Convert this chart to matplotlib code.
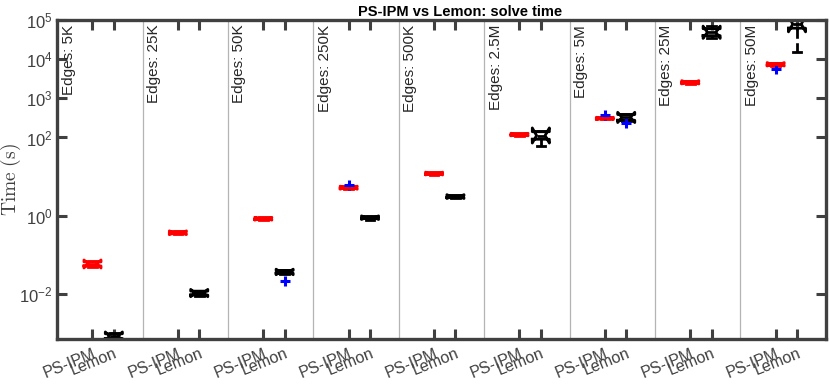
import numpy as np
import matplotlib
matplotlib.use('Agg')
import matplotlib.pyplot as plt

plt.rcParams['font.family'] = ['Liberation Sans', 'DejaVu Sans']
plt.rcParams['mathtext.fontset'] = 'cm'

# data (seconds)
groups = ['5K', '25K', '50K', '250K', '500K', '2.5M', '5M', '25M', '50M']
solvers = ['PS-IPM', 'Lemon']

ps_med = [0.059, 0.366, 0.838, 5.2, 11.9, 119, 307, 2570, 7400]
ps_q1 = [0.052, 0.345, 0.80, 4.95, 11.4, 114, 296, 2450, 7000]
ps_q3 = [0.066, 0.39, 0.88, 5.5, 12.5, 124, 318, 2700, 7800]
ps_lo = [0.048, 0.335, 0.785, 4.85, 11.2, 112, 292, 2380, 6850]
ps_hi = [0.071, 0.40, 0.90, 5.6, 12.8, 127, 325, 2800, 8100]
ps_cilo = [0.046, 0.33, 0.77, 4.75, 11.0, 110, 288, 2330, 6700]
ps_cihi = [0.074, 0.41, 0.91, 5.7, 13.0, 128, 328, 2830, 8200]
ps_out = [[], [], [], [6.2], [], [], [385], [], [5500]]

lm_med = [8.4e-4, 0.0106, 0.0366, 0.89, 3.07, 112, 326, 49000, 79000]
lm_q1 = [7.3e-4, 0.0094, 0.034, 0.85, 2.9, 90, 275, 40000, 62000]
lm_q3 = [9.6e-4, 0.0118, 0.040, 0.94, 3.25, 140, 385, 60000, 100000]
lm_lo = [7.0e-4, 0.0090, 0.033, 0.79, 2.8, 62, 270, 35000, 15000]
lm_hi = [1.0e-3, 0.0122, 0.041, 0.96, 3.3, 150, 390, 71000, 120000]
lm_cilo = [6.6e-4, 0.0085, 0.031, 0.80, 2.75, 72, 240, 34000, 50000]
lm_cihi = [1.07e-3, 0.0131, 0.043, 0.99, 3.45, 175, 440, 70000, 125000]
lm_out = [[], [], [0.0216], [], [], [], [230], [], []]

axcol = '#404040'


def make_stats(med, q1, q3, lo, hi, cilo, cihi, out):
    return [dict(med=med[i], q1=q1[i], q3=q3[i], whislo=lo[i], whishi=hi[i],
                 cilo=cilo[i], cihi=cihi[i], fliers=out[i]) for i in range(len(med))]


fig = plt.figure(figsize=(8.3, 3.86), dpi=100)
ax = fig.add_axes([0.069, 0.122, 0.926, 0.826])

n = len(groups)
pos_ps = np.arange(n) * 4 + 1.65
pos_lm = np.arange(n) * 4 + 2.65

for stats, pos, col in [(make_stats(ps_med, ps_q1, ps_q3, ps_lo, ps_hi, ps_cilo, ps_cihi, ps_out), pos_ps, 'red'),
                        (make_stats(lm_med, lm_q1, lm_q3, lm_lo, lm_hi, lm_cilo, lm_cihi, lm_out), pos_lm, 'black')]:
    ax.bxp(stats, positions=pos, widths=0.8, shownotches=True, manage_ticks=False,
           boxprops=dict(color=col, linewidth=2),
           medianprops=dict(color=col, linewidth=2),
           whiskerprops=dict(color=col, linewidth=2, linestyle='--'),
           capprops=dict(color=col, linewidth=2),
           flierprops=dict(marker='+', markeredgecolor='blue', markersize=7, markeredgewidth=2.2))

for i in range(1, n):
    ax.axvline(4 * i, color='#b4b4b4', linewidth=0.9, zorder=0)

for i, g in enumerate(groups):
    ax.text(4 * i + 0.2, 0.985, 'Edges: ' + g, rotation=90, ha='left', va='top',
            fontsize=11, color='#262626', transform=ax.get_xaxis_transform())

ax.set_yscale('log')
ax.set_ylim(7.1e-4, 1e5)
ax.set_xlim(0, 4 * n)
ax.set_yticks([1e-2, 1, 1e2, 1e3, 1e4, 1e5])
ax.set_yticklabels([r'$\mathregular{10^{-2}}$', r'$\mathregular{10^{0}}$', r'$\mathregular{10^{2}}$',
                    r'$\mathregular{10^{3}}$', r'$\mathregular{10^{4}}$', r'$\mathregular{10^{5}}$'])
ax.minorticks_off()

xt = np.sort(np.concatenate([pos_ps, pos_lm]))
ax.set_xticks(xt)
ax.set_xticklabels(solvers * n, rotation=22, ha='right', va='top', rotation_mode='anchor')

ax.tick_params(axis='both', which='both', direction='in', length=7, width=2.2, color=axcol,
               labelcolor=axcol, top=True, right=True)
ax.tick_params(axis='y', labelsize=12)
ax.tick_params(axis='x', labelsize=11.5, pad=5)
for s in ax.spines.values():
    s.set_linewidth(2.4)
    s.set_color(axcol)

ax.set_ylabel(r'$\mathrm{Time\ (s)}$', fontsize=14, color=axcol)
ax.yaxis.set_label_coords(-0.044, 0.5)
ax.set_title('PS-IPM vs Lemon: solve time', fontsize=10.5, fontweight='bold', pad=3, x=0.524)

fig.savefig('out.png', dpi=100)
